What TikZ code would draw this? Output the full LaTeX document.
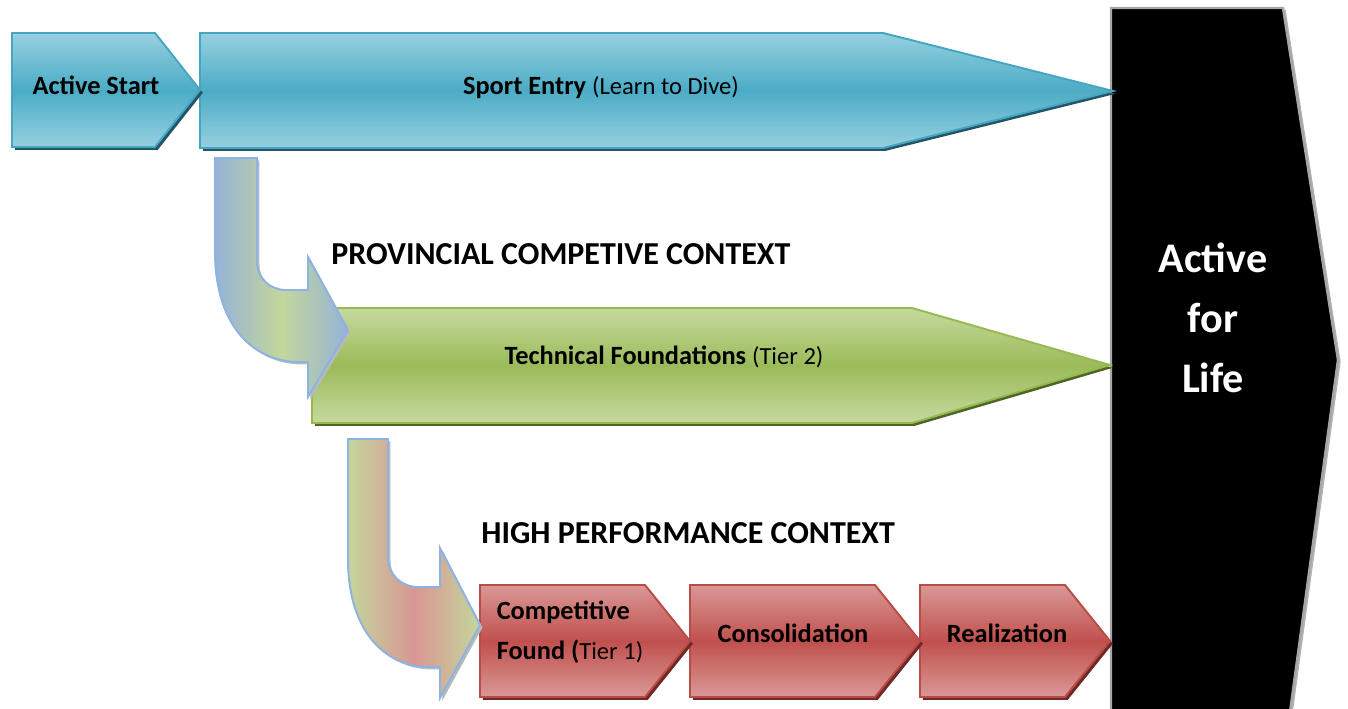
\documentclass[tikz,border=0pt]{standalone}
\usepackage{fontspec}
\setmainfont{Carlito}
\usepackage{tikz}
\usetikzlibrary{shadows}
\usetikzlibrary{positioning}
\definecolor{blueLight}{RGB}{150,208,224}
\definecolor{blueMid}{RGB}{75,172,198}
\definecolor{blueEdge}{RGB}{70,165,195}
\definecolor{blueShadow}{RGB}{35,85,100}
\definecolor{greenLight}{RGB}{198,217,158}
\definecolor{greenMid}{RGB}{155,187,89}
\definecolor{greenEdge}{RGB}{150,185,80}
\definecolor{greenShadow}{RGB}{80,100,40}
\definecolor{redLight}{RGB}{218,152,150}
\definecolor{redMid}{RGB}{192,80,77}
\definecolor{redEdge}{RGB}{185,75,72}
\definecolor{redShadow}{RGB}{110,40,38}
\definecolor{bendBlue}{RGB}{149,179,215}
\definecolor{bendGreen}{RGB}{195,214,155}
\definecolor{bendRed}{RGB}{217,150,148}
\definecolor{bendEdge}{RGB}{141,179,226}
\tikzstyle{chevron} = [line width=1.1pt]
\tikzstyle{blueChevron} = [chevron, draw=blueEdge, top color=blueLight, bottom color=blueLight, middle color=blueMid, drop shadow={shadow xshift=1.6pt, shadow yshift=-1.6pt, fill=blueShadow, opacity=1}]
\tikzstyle{greenChevron} = [chevron, draw=greenEdge, top color=greenLight, bottom color=greenLight, middle color=greenMid, drop shadow={shadow xshift=1.6pt, shadow yshift=-1.6pt, fill=greenShadow, opacity=1}]
\tikzstyle{redChevron} = [chevron, draw=redEdge, top color=redLight, bottom color=redLight, middle color=redMid, drop shadow={shadow xshift=1.6pt, shadow yshift=-1.6pt, fill=redShadow, opacity=1}]
\tikzstyle{bendArrow} = [line width=1.1pt, draw=bendEdge, drop shadow={shadow xshift=1.4pt, shadow yshift=-1.4pt, fill=gray!55, opacity=1}]
\tikzstyle{boxText} = [font=\bfseries\fontsize{15}{22.5}\selectfont, inner sep=0pt]
\tikzstyle{contextText} = [font=\bfseries\fontsize{18.2}{22}\selectfont, inner sep=0pt, anchor=base west]
\newcommand{\tierText}[1]{{\mdseries\fontsize{14}{17}\selectfont #1}}

\begin{document}
\begin{tikzpicture}[x=0.02cm, y=-0.02cm]
	\useasboundingbox (0,0) rectangle (1348,709);
	
	% active for life
	\draw[fill=black, draw=gray!70, line width=1.4pt, drop shadow={shadow xshift=1.5pt, shadow yshift=-1pt, fill=gray!60, opacity=1}] (1111,8) -- (1283,8) -- (1338,360) -- (1290,712) -- (1111,712) -- cycle;
	\node[boxText, text=white, font=\bfseries\fontsize{24}{34}\selectfont, align=center] (Active-Life) at (1213,318) {Active\\for\\Life};
	
	% sport entry row
	\draw[blueChevron] (200,33) -- (883,33) -- (1113,91) -- (883,148) -- (200,148) -- cycle;
	\draw[blueChevron] (12,33) -- (155,33) -- (200,90) -- (155,147) -- (12,147) -- cycle;
	\node[boxText, anchor=base] (Active-Start) at (96,95) {Active Start};
	\node[boxText, anchor=base] (Sport-Entry) at (601,95) {Sport Entry \tierText{(Learn to Dive)}};
	
	% provincial row
	\draw[greenChevron] (312,308) -- (912,308) -- (1110,365) -- (912,423) -- (312,423) -- cycle;
	\node[boxText, anchor=base] (Tech-Found) at (664,364) {Technical Foundations \tierText{(Tier 2)}};
	\draw[bendArrow, left color=bendBlue, right color=bendBlue, middle color=bendGreen] (215,158) -- (257,158) -- (257,262) .. controls (257,278) and (270,290) .. (286,290) -- (308,290) -- (308,257) -- (348,330) -- (308,397) -- (308,362) -- (300,362) .. controls (250,362) and (215,322) .. (215,252) -- cycle;
	\node[contextText] (Provincial) at (331,265) {PROVINCIAL COMPETIVE CONTEXT};
	
	% high performance row
	\draw[redChevron] (920,585) -- (1065,585) -- (1110,641) -- (1065,697) -- (920,697) -- cycle;
	\draw[redChevron] (690,585) -- (875,585) -- (920,641) -- (875,697) -- (690,697) -- cycle;
	\draw[redChevron] (480,585) -- (645,585) -- (690,641) -- (645,697) -- (480,697) -- cycle;
	\node[boxText, align=left] (Comp-Found) at (570,632) {Competitive\\Found (\tierText{Tier 1)}};
	\node[boxText, anchor=base] (Consolidation) at (793,642) {Consolidation};
	\node[boxText, anchor=base] (Realization) at (1007,642) {Realization};
	\draw[bendArrow, left color=bendGreen, right color=bendGreen, middle color=bendRed] (348,439) -- (388,439) -- (388,558) .. controls (388,575) and (402,587) .. (418,587) -- (440,587) -- (440,548) -- (480,625) -- (440,698) -- (440,667) -- (430,667) .. controls (380,667) and (348,625) .. (348,560) -- cycle;
	\node[contextText] (High-Perf) at (481,543) {HIGH PERFORMANCE CONTEXT};

\end{tikzpicture}
\end{document}
